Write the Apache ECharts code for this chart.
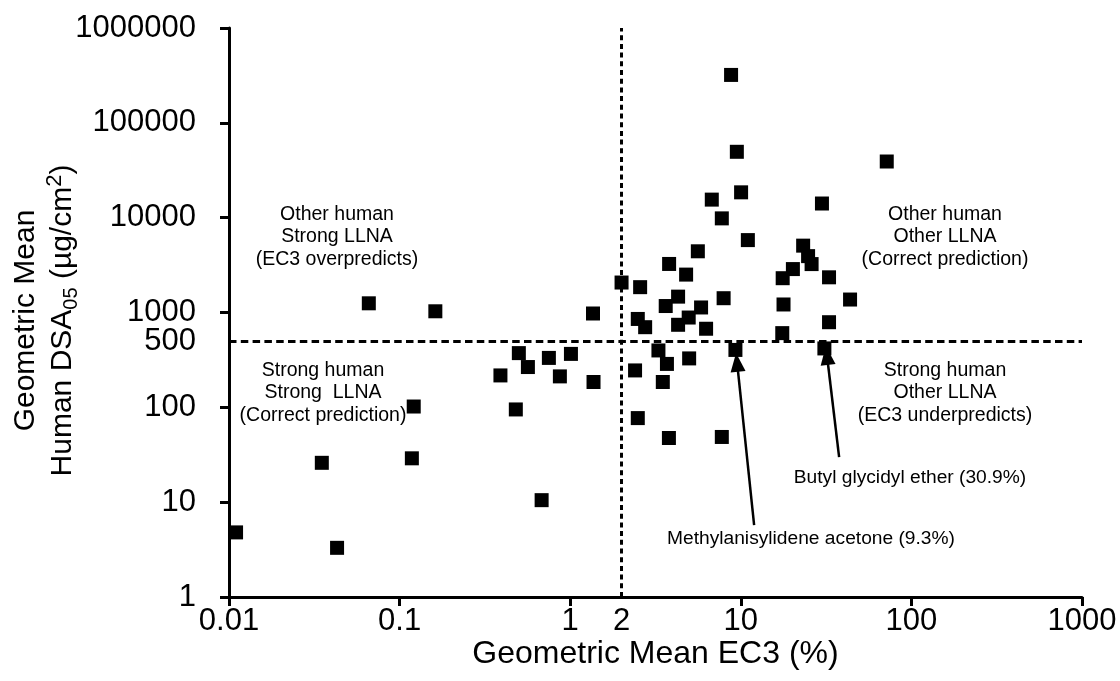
<!DOCTYPE html>
<html><head><meta charset="utf-8">
<script src="https://cdn.jsdelivr.net/npm/echarts@6/dist/echarts.min.js"></script>
<style>html,body{margin:0;padding:0;background:#fff}#c{width:1120px;height:681px}</style>
</head><body><div id="c"></div>
<script>
// Geometric mean EC3 (%) per chemical
const ec3 = [0.011, 0.043, 0.035, 0.118, 0.121, 0.066, 0.162, 0.68, 0.48, 0.39,
  0.50, 0.565, 0.75, 0.87, 1.01, 1.36, 1.37, 2.0, 2.57, 2.49,
  2.75, 2.40, 2.49, 3.29, 3.69, 3.49, 3.79, 3.63, 4.29, 4.29,
  3.80, 4.78, 4.95, 4.98, 5.60, 5.85, 6.26, 6.76, 7.74, 7.93,
  7.74, 8.77, 9.48, 10.04, 11.0, 9.3, 17.6, 20.2, 17.8, 17.5,
  23.2, 24.8, 26.0, 29.9, 32.9, 32.9, 30.9, 43.7, 71.7];
// Geometric mean human DSA05 (ug/cm2) per chemical
const dsa05 = [4.8, 3.3, 26, 29, 102, 1250, 1030, 10.5, 95, 217,
  373, 266, 332, 212, 366, 976, 185, 2070, 1850, 855,
  700, 245, 77, 398, 287, 185, 47.5, 1170, 1470, 742,
  3250, 2510, 885, 328, 4420, 1130, 674, 15500, 9830, 1415,
  48.7, 320000, 49500, 18500, 5800, 403, 2300, 2870, 1215, 606,
  5070, 3930, 3240, 14100, 2350, 790, 418, 1370, 39100];

const xTickLabels = ['0.01', '0.1', '1', '10', '100', '1000'];
const yTickLabels = ['1', '10', '100', '1000', '10000', '100000', '1000000'];
const llnaThreshold = 2;      // EC3 %
const humanThreshold = 500;   // ug/cm2
const xMin = 0.01, xMax = 1000, yMin = 1, yMax = 1000000;

const arrowLabels = ['Methylanisylidene acetone (9.3%)', 'Butyl glycidyl ether (30.9%)'];
const arrowTailX = [11.97, 37.7];
const arrowTailY = [5.73, 29.8];
const arrowTipX = [9.51, 32.0];
const arrowTipY = [298, 352];

const quadrantLabels = [
  'Other human\nStrong LLNA\n(EC3 overpredicts)',
  'Strong human\nStrong  LLNA\n(Correct prediction)',
  'Other human\nOther LLNA\n(Correct prediction)',
  'Strong human\nOther LLNA\n(EC3 underpredicts)'
];

const FONT = "Arial, 'Liberation Sans', sans-serif";
const points = ec3.map((x, i) => [x, dsa05[i]]);

function fmt(labels) {
  return function (v) {
    const lv = Math.round(Math.log10(v));
    const found = labels.find(s => Math.round(Math.log10(parseFloat(s))) === lv);
    return found || String(+v.toPrecision(6));
  };
}

const chart = echarts.init(document.getElementById('c'), null, { renderer: 'canvas' });
const axisCommon = {
  type: 'log', logBase: 10,
  axisLine: { show: true, onZero: false, lineStyle: { color: '#000', width: 3 } },
  axisTick: { show: true, inside: false, length: 9, lineStyle: { color: '#000', width: 3 } },
  minorTick: { show: false },
  splitLine: { show: false },
  nameMoveOverlap: false
};
const arrowLine = { color: '#000', width: 2.5, type: 'solid' };
const txt = (x, y, text, size) => ({
  type: 'text', x: x, y: y, silent: true,
  style: { text: text, font: size + 'px ' + FONT, fill: '#000', align: 'center', verticalAlign: 'middle', lineHeight: 22.5 }
});

chart.setOption({
  animation: false,
  backgroundColor: '#fff',
  grid: { left: 229, right: 38, top: 28, bottom: 84, containLabel: false, outerBoundsMode: 'none' },
  xAxis: Object.assign({}, axisCommon, {
    min: xMin, max: xMax,
    name: 'Geometric Mean EC3 (%)', nameLocation: 'middle', nameGap: 41,
    nameTextStyle: { fontFamily: FONT, fontSize: 32, color: '#000' },
    axisLabel: { formatter: fmt(xTickLabels), fontFamily: FONT, fontSize: 31, color: '#000', margin: 9 }
  }),
  yAxis: Object.assign({}, axisCommon, {
    min: yMin, max: yMax,
    name: 'Geometric Mean\nHuman DSA{sub|05} (µg/cm{sup|2})',
    nameLocation: 'middle', nameRotate: 90, nameGap: 148,
    nameTextStyle: {
      fontFamily: FONT, fontSize: 30, color: '#000', lineHeight: 37, align: 'center',
      padding: [0, 16, 0, 0],
      rich: {
        sub: { fontFamily: FONT, fontSize: 20, color: '#000', verticalAlign: 'bottom', lineHeight: 37 },
        sup: { fontFamily: FONT, fontSize: 22, color: '#000', verticalAlign: 'top', lineHeight: 24 }
      }
    },
    axisLabel: { formatter: fmt(yTickLabels), fontFamily: FONT, fontSize: 31, color: '#000', margin: 33 }
  }),
  series: [{
    type: 'scatter',
    data: points,
    symbol: 'rect',
    symbolSize: 14,
    itemStyle: { color: '#000', opacity: 1 },
    z: 5,
    markLine: {
      silent: true,
      symbol: ['none', 'none'],
      animation: false,
      data: [
        {
          yAxis: humanThreshold,
          lineStyle: { color: '#000', width: 3, type: [7.5, 4.3] },
          label: { show: true, position: 'start', formatter: String(humanThreshold), fontFamily: FONT, fontSize: 31, color: '#000', distance: 33 }
        },
        {
          xAxis: llnaThreshold,
          lineStyle: { color: '#000', width: 3, type: [5, 3.7] },
          label: { show: true, position: 'start', formatter: String(llnaThreshold), fontFamily: FONT, fontSize: 31, color: '#000', distance: 9 }
        },
        [
          { coord: [arrowTailX[0], arrowTailY[0]], symbol: 'none', lineStyle: arrowLine, label: { show: false } },
          { coord: [arrowTipX[0], arrowTipY[0]], symbol: 'triangle', symbolSize: [15, 19], lineStyle: arrowLine, label: { show: false } }
        ],
        [
          { coord: [arrowTailX[1], arrowTailY[1]], symbol: 'none', lineStyle: arrowLine, label: { show: false } },
          { coord: [arrowTipX[1], arrowTipY[1]], symbol: 'triangle', symbolSize: [15, 19], lineStyle: arrowLine, label: { show: false } }
        ]
      ]
    }
  }],
  graphic: [
    txt(337, 237, quadrantLabels[0], 19.5),
    txt(323, 393, quadrantLabels[1], 19.5),
    txt(945, 237, quadrantLabels[2], 19.5),
    txt(945, 393, quadrantLabels[3], 19.5),
    txt(811, 539, arrowLabels[0], 19.2),
    txt(910, 478, arrowLabels[1], 19.2)
  ]
});
</script>
</body></html>
